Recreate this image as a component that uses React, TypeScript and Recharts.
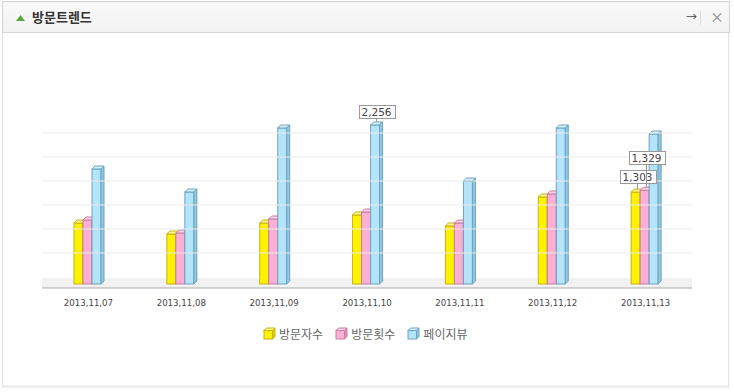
import React from "react";
import { BarChart, Bar, XAxis, YAxis, ReferenceLine, ReferenceArea, LabelList } from "recharts";

const DATES = ["2013,11,07", "2013,11,08", "2013,11,09", "2013,11,10", "2013,11,11", "2013,11,12", "2013,11,13"];
const VISITORS = [865, 709, 865, 979, 823, 1234, 1303];
const VISITS = [908, 723, 922, 1021, 865, 1277, 1329];
const PAGEVIEWS = [1631, 1305, 2213, 2256, 1461, 2213, 2128];
const GRID = [440, 780, 1121, 1461, 1801, 2142];

const SERIES = [
  { key: "visitors", name: "방문자수", values: VISITORS, front: "#fff200", top: "#fff890", side: "#e0d000", stroke: "#c9b20c", lift: 6 },
  { key: "visits", name: "방문횟수", values: VISITS, front: "#fdb0d6", top: "#fdd0e6", side: "#e690bc", stroke: "#c77fa3", lift: 23 },
  { key: "pageviews", name: "페이지뷰", values: PAGEVIEWS, front: "#b3e4fa", top: "#d6f1fd", side: "#8ec9e4", stroke: "#6fa2bd", lift: 4 },
];

const data = DATES.map((date, i) => ({
  date,
  visitors: VISITORS[i],
  visits: VISITS[i],
  pageviews: PAGEVIEWS[i],
}));

const fmt = (v: number) => v.toLocaleString("en-US");
const D = 3;

function makeShape(s: (typeof SERIES)[number]) {
  return (props: any) => {
    const { x, y, width, height } = props;
    if (height == null || height <= 0) return <g />;
    const bx = x - 1;
    return (
      <g>
        <rect x={bx} y={y} width={width} height={height} fill={s.front} stroke={s.stroke} strokeWidth={1} />
        <polygon
          points={`${bx},${y} ${bx + D},${y - D} ${bx + width + D},${y - D} ${bx + width},${y}`}
          fill={s.top}
          stroke={s.stroke}
          strokeWidth={1}
        />
        <polygon
          points={`${bx + width},${y} ${bx + width + D},${y - D} ${bx + width + D},${y + height - D} ${bx + width},${y + height}`}
          fill={s.side}
          stroke={s.stroke}
          strokeWidth={1}
        />
      </g>
    );
  };
}

function makeLabel(s: (typeof SERIES)[number]) {
  const max = Math.max(...s.values);
  return (props: any) => {
    const { x, y, width, value } = props;
    if (value !== max) return null;
    const cx = Math.round(x - 1 + width / 2 + 1) + 0.5;
    const text = fmt(value);
    const w = text.length * 6.4 + 4;
    const h = 13;
    const bottom = Math.round(y - D - s.lift) + 0.5;
    return (
      <g>
        <line x1={cx} y1={bottom} x2={cx} y2={y - D} stroke="#999" />
        <rect x={Math.round(cx - w / 2) + 0.5} y={bottom - h} width={Math.round(w)} height={h} fill="#fff" stroke="#999" />
        <text x={cx} y={bottom - 3} textAnchor="middle" fontSize={10.5} fill="#444" fontFamily="DejaVu Sans, sans-serif">
          {text}
        </text>
      </g>
    );
  };
}

function Cube({ s }: { s: (typeof SERIES)[number] }) {
  return (
    <svg width={13} height={13} style={{ verticalAlign: "middle" }}>
      <rect x={1} y={3.5} width={8.5} height={8.5} fill={s.front} stroke={s.stroke} />
      <polygon points="1,3.5 3.5,1 12,1 9.5,3.5" fill={s.top} stroke={s.stroke} />
      <polygon points="9.5,3.5 12,1 12,9.5 9.5,12" fill={s.side} stroke={s.stroke} />
    </svg>
  );
}

export default function App() {
  return (
    <div style={{ position: "absolute", left: 0, top: 0, width: 734, height: 392, background: "#fff", fontFamily: "'Noto Sans CJK KR', sans-serif" }}>
      {/* panel frame */}
      <div style={{ position: "absolute", left: 2, top: 1, width: 727, height: 387, border: "1px solid #e2e2e2", borderBottom: "3px solid #eeeeee", boxSizing: "border-box" }} />
      <div
        style={{
          position: "absolute", left: 2, top: 1, width: 728, height: 32, boxSizing: "border-box",
          background: "linear-gradient(#fafafa, #f2f2f2)", border: "1px solid #d3d3d3",
        }}
      >
        <svg width={10} height={8} style={{ position: "absolute", left: 13, top: 12 }}>
          <polygon points="0,7 4.5,1 9,7" fill="#56a93a" />
        </svg>
        <span style={{ position: "absolute", left: 29, top: 5, fontSize: 13, fontWeight: 700, color: "#333" }}>방문트렌드</span>
        <span style={{ position: "absolute", left: 683, top: 6, fontSize: 11, color: "#444" }}>→</span>
        <div style={{ position: "absolute", left: 697, top: 9, width: 1, height: 14, background: "#ddd" }} />
        <span style={{ position: "absolute", left: 707, top: 4, fontSize: 14, color: "#888" }}>×</span>
      </div>

      <div style={{ position: "absolute", left: 0, top: 0 }}>
        <BarChart width={734} height={392} data={data} margin={{ top: 100, right: 42, bottom: 74, left: 42 }} barSize={9} barGap={0} barCategoryGap={33}>
          <YAxis hide domain={[-57, 2610]} allowDataOverflow />
          <ReferenceArea y1={-57} y2={85} fill="#f2f2f2" fillOpacity={1} stroke="none" />
          {GRID.map((g) => (
            <ReferenceLine key={g} y={g} stroke="#ebebeb" />
          ))}
          <XAxis
            dataKey="date"
            height={30}
            tickLine={false}
            axisLine={{ stroke: "#aaa" }}
            tick={{ fontSize: 8.6, fill: "#444", fontFamily: "DejaVu Sans, sans-serif" }}
            tickMargin={6}
            interval={0}
          />
          {SERIES.map((s) => (
            <Bar key={s.key} dataKey={s.key} name={s.name} isAnimationActive={false} shape={makeShape(s)}>
              <LabelList dataKey={s.key} content={makeLabel(s)} />
            </Bar>
          ))}
        </BarChart>
      </div>

      <div style={{ position: "absolute", left: 263, top: 325, display: "flex", gap: 12, fontSize: 12, color: "#666" }}>
        {SERIES.map((s) => (
          <span key={s.key} style={{ display: "flex", alignItems: "center", gap: 3 }}>
            <Cube s={s} />
            {s.name}
          </span>
        ))}
      </div>
    </div>
  );
}
